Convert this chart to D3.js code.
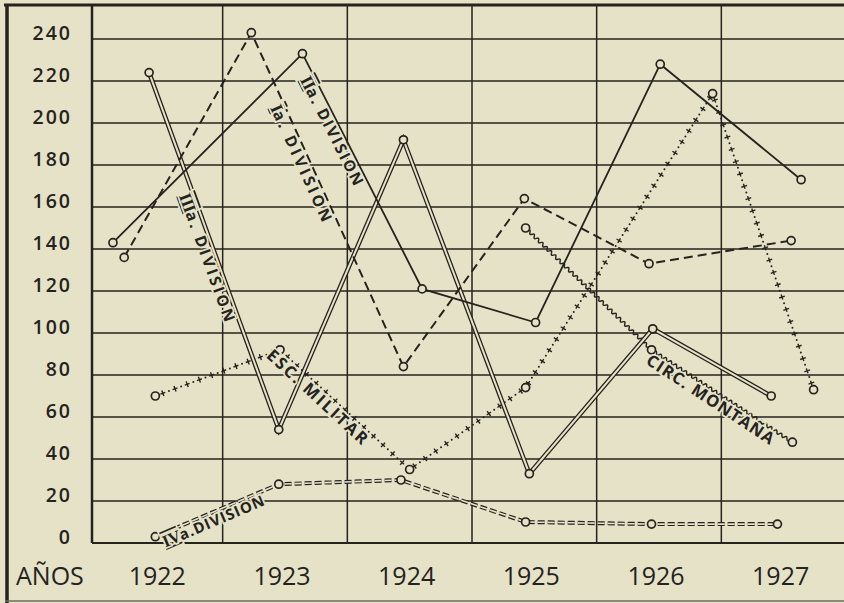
<!DOCTYPE html>
<html>
<head>
<meta charset="utf-8">
<script src="https://cdn.jsdelivr.net/npm/d3@7"></script>
<style>
  html, body { margin: 0; padding: 0; background: #e7e3ca; }
  svg { display: block; }
</style>
</head>
<body>
<svg id="chart" width="844" height="603"></svg>
<script>
// ---- data -------------------------------------------------------------
const years = [1922, 1923, 1924, 1925, 1926, 1927];
const yTicks = [0, 20, 40, 60, 80, 100, 120, 140, 160, 180, 200, 220, 240];
const axisTitle = "AÑOS";

// plotted position of each point along the year axis, and its value
const divIaX   = [1921.71, 1922.73, 1923.95, 1924.92, 1925.92, 1927.06];
const divIaV   = [136, 243, 84, 164, 133, 144];

const divIIaX  = [1921.62, 1923.14, 1924.10, 1925.01, 1926.01, 1927.14];
const divIIaV  = [143, 233, 121, 105, 228, 173];

const divIIIaX = [1921.91, 1922.95, 1923.95, 1924.96, 1925.95, 1926.90];
const divIIIaV = [224, 54, 192, 33, 102, 70];

const escMilX  = [1921.96, 1922.96, 1924.00, 1924.93, 1926.43, 1927.24];
const escMilV  = [70, 92, 35, 74, 214, 73];

const circMontX = [1924.93, 1925.94, 1927.07];
const circMontV = [150, 92, 48];

const divIVaX  = [1921.96, 1922.95, 1923.93, 1924.93, 1925.94, 1926.95];
const divIVaV  = [3, 28, 30, 10, 9, 9];

// ---- setup ------------------------------------------------------------
const PAPER = "#e6e2c8";
const INK = "#24231e";
const svg = d3.select("#chart");

const x = d3.scaleLinear().domain([1921.5, 1927.5]).range([98, 846]);
const y = d3.scaleLinear().domain([0, 240]).range([543, 39]);

const plotLeft = 92, plotRight = 844, plotTop = 5, plotBottom = y(0);

svg.append("rect").attr("width", 844).attr("height", 603).attr("fill", PAPER);

// ---- grid & frame -----------------------------------------------------
const grid = svg.append("g").attr("stroke", INK).attr("fill", "none");

grid.selectAll("line.h").data(yTicks).join("line")
  .attr("x1", plotLeft).attr("x2", plotRight)
  .attr("y1", d => y(d)).attr("y2", d => y(d))
  .attr("stroke-width", d => d === 0 ? 2 : 1.4);

const halfYears = years.slice(0, -1).map(d => d + 0.5);
grid.selectAll("line.v").data(halfYears).join("line")
  .attr("x1", d => x(d)).attr("x2", d => x(d))
  .attr("y1", plotTop).attr("y2", plotBottom)
  .attr("stroke-width", 1.5);

// label column border, outer frame
grid.append("line").attr("x1", plotLeft).attr("x2", plotLeft)
  .attr("y1", plotTop).attr("y2", plotBottom).attr("stroke-width", 2.5);
grid.append("line").attr("x1", 4).attr("x2", 844)
  .attr("y1", 5).attr("y2", 5).attr("stroke-width", 3);
grid.append("line").attr("x1", 7).attr("x2", 7)
  .attr("y1", 4).attr("y2", 603).attr("stroke-width", 3.5);
grid.append("line").attr("x1", 5).attr("x2", 844)
  .attr("y1", 601).attr("y2", 601).attr("stroke-width", 1.5).attr("stroke", "#6d6b60");

// ---- axis labels ------------------------------------------------------
const axisFont = "'Open Sans', 'DejaVu Sans', sans-serif";

svg.append("g").selectAll("text").data(yTicks).join("text")
  .attr("x", 72).attr("y", d => y(d) + 1)
  .attr("text-anchor", "end")
  .attr("font-family", axisFont).attr("font-size", 19.5)
  .attr("font-weight", 600)
  .attr("letter-spacing", 2)
  .attr("fill", INK)
  .text(d => d);

svg.append("g").selectAll("text").data(years).join("text")
  .attr("x", d => x(d) - 3).attr("y", 585)
  .attr("text-anchor", "middle")
  .attr("font-family", axisFont).attr("font-size", 25)
  .attr("font-weight", 500)
  .attr("fill", INK)
  .text(d => d);

svg.append("text")
  .attr("x", 16).attr("y", 585)
  .attr("font-family", axisFont).attr("font-size", 25)
  .attr("font-weight", 500)
  .attr("fill", INK)
  .text(axisTitle);

// ---- series -----------------------------------------------------------
const series = [
  { xs: divIVaX, vs: divIVaV, style: "doubleDashed",
    label: { roman: "IV", rest: "a.DIVISION", seg: 0, start: 5, len: 110, size: 15 } },
  { xs: circMontX, vs: circMontV, style: "wavy",
    label: { roman: "", rest: "CIRC. MONTAÑA", seg: 1, start: 2, len: 150, size: 16.5 } },
  { xs: escMilX, vs: escMilV, style: "crosses",
    label: { roman: "", rest: "ESC. MILITAR", seg: 1, start: -6, len: 133, size: 16.5 } },
  { xs: divIIIaX, vs: divIIIaV, style: "double",
    label: { roman: "III", rest: "a. DIVISION", seg: 0, start: 126, len: 138, size: 15.5 } },
  { xs: divIaX, vs: divIaV, style: "dashed",
    label: { roman: "I", rest: "a. DIVISION", seg: 1, start: 76, len: 130, size: 15.5 } },
  { xs: divIIaX, vs: divIIaV, style: "solid",
    label: { roman: "II", rest: "a. DIVISION", seg: 1, start: 22, len: 122, size: 15.5 } }
];

const lineGen = d3.line();
const marks = svg.append("g").attr("fill", "none");

function wavyPath(pts, amp, period) {
  let d = "";
  for (let i = 0; i < pts.length - 1; i++) {
    const [x0, y0] = pts[i], [x1, y1] = pts[i + 1];
    const L = Math.hypot(x1 - x0, y1 - y0);
    const ux = (x1 - x0) / L, uy = (y1 - y0) / L;
    const nx = -uy, ny = ux;
    for (let s = 0; s <= L; s += 0.5) {
      const w = amp * Math.sin(2 * Math.PI * s / period);
      const px = x0 + ux * s + nx * w, py = y0 + uy * s + ny * w;
      d += (d === "" ? "M" : "L") + px.toFixed(2) + "," + py.toFixed(2);
    }
  }
  return d;
}

function crossMarks(g, pts) {
  for (let i = 0; i < pts.length - 1; i++) {
    const [x0, y0] = pts[i], [x1, y1] = pts[i + 1];
    const L = Math.hypot(x1 - x0, y1 - y0);
    const ux = (x1 - x0) / L, uy = (y1 - y0) / L;
    const nx = -uy, ny = ux;
    const step = 13;
    const n = Math.floor((L - 10) / step);
    const off = (L - n * step) / 2;
    for (let k = 0; k <= n; k++) {
      const s = off + k * step;
      const cx = x0 + ux * s, cy = y0 + uy * s;
      g.append("path")
        .attr("d", `M${cx - ux * 2.6},${cy - uy * 2.6}L${cx + ux * 2.6},${cy + uy * 2.6}` +
                   `M${cx - nx * 3},${cy - ny * 3}L${cx + nx * 3},${cy + ny * 3}`)
        .attr("stroke", INK).attr("stroke-width", 1.4);
      if (k < n) {
        const ds = s + step / 2;
        g.append("circle")
          .attr("cx", x0 + ux * ds).attr("cy", y0 + uy * ds)
          .attr("r", 1).attr("fill", INK);
      }
    }
  }
}

series.forEach(sr => {
  const pts = sr.xs.map((d, i) => [x(d), y(sr.vs[i])]);
  sr.pts = pts;
  const g = marks.append("g");
  if (sr.style === "solid") {
    g.append("path").attr("d", lineGen(pts)).attr("stroke", INK).attr("stroke-width", 1.8);
  } else if (sr.style === "dashed") {
    g.append("path").attr("d", lineGen(pts)).attr("stroke", INK)
      .attr("stroke-width", 2).attr("stroke-dasharray", "9,5");
  } else if (sr.style === "double") {
    g.append("path").attr("d", lineGen(pts)).attr("stroke", INK)
      .attr("stroke-width", 4.6).attr("stroke-linejoin", "miter");
    g.append("path").attr("d", lineGen(pts)).attr("stroke", PAPER)
      .attr("stroke-width", 2).attr("stroke-linejoin", "miter");
  } else if (sr.style === "doubleDashed") {
    g.append("path").attr("d", lineGen(pts)).attr("stroke", INK)
      .attr("stroke-width", 4).attr("stroke-dasharray", "7,3");
    g.append("path").attr("d", lineGen(pts)).attr("stroke", PAPER)
      .attr("stroke-width", 1.6).attr("stroke-dasharray", "7,3");
  } else if (sr.style === "wavy") {
    g.append("path").attr("d", wavyPath(pts, 1.5, 6)).attr("stroke", INK).attr("stroke-width", 1.4);
  } else if (sr.style === "crosses") {
    crossMarks(g, pts);
  }
});

// point markers on top of every line
series.forEach(sr => {
  marks.append("g").selectAll("circle").data(sr.pts).join("circle")
    .attr("cx", d => d[0]).attr("cy", d => d[1]).attr("r", 4)
    .attr("fill", PAPER).attr("stroke", INK).attr("stroke-width", 1.7);
});

// ---- line labels, set along one segment of each line ------------------
const labelFont = "'Open Sans', 'DejaVu Sans', sans-serif";
series.forEach(sr => {
  const lb = sr.label;
  const [x0, y0] = sr.pts[lb.seg], [x1, y1] = sr.pts[lb.seg + 1];
  const L = Math.hypot(x1 - x0, y1 - y0);
  const ux = (x1 - x0) / L, uy = (y1 - y0) / L;
  const ang = Math.atan2(uy, ux) * 180 / Math.PI;
  const ox = x0 + ux * lb.start, oy = y0 + uy * lb.start;
  const t = svg.append("text")
    .attr("transform", `translate(${ox},${oy}) rotate(${ang})`)
    .attr("x", 0).attr("y", 3 + 0.72 * lb.size)
    .attr("font-family", labelFont).attr("font-weight", 700)
    .attr("font-size", lb.size).attr("fill", INK)
    .attr("stroke", PAPER).attr("stroke-width", 3.5)
    .attr("paint-order", "stroke");
  if (lb.roman) {
    t.append("tspan")
      .attr("font-family", "'Liberation Serif', 'DejaVu Serif', serif")
      .attr("font-weight", 700).attr("font-size", lb.size + 2)
      .attr("letter-spacing", -0.6)
      .style("text-decoration", "overline underline")
      .text(lb.roman);
  }
  const rest = t.append("tspan").text(lb.rest);
  // spread the letters so the label covers its stretch of the line
  const natural = t.node().getComputedTextLength();
  const extra = Math.max(0, (lb.len - natural) / lb.rest.length);
  rest.attr("letter-spacing", extra);
});
</script>
</body>
</html>
